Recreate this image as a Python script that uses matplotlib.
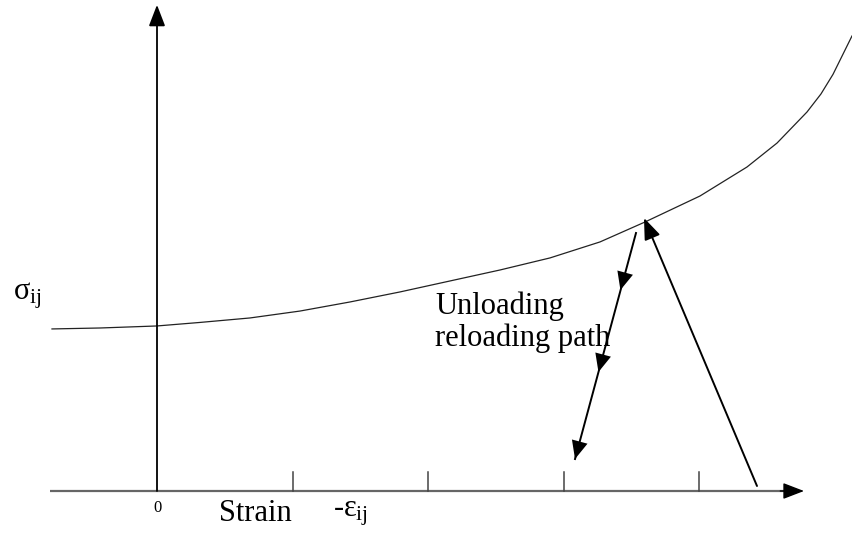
import matplotlib.pyplot as plt

plt.rcParams["font.family"] = ["Liberation Serif", "DejaVu Serif"]
plt.rcParams["mathtext.fontset"] = "custom"
plt.rcParams["mathtext.rm"] = "Liberation Serif"
plt.rcParams["mathtext.it"] = "Liberation Serif"

# stress-strain curve (strain units = tick spacing)
curve_x = [-0.775, -0.421, 0.0, 0.317, 0.686, 1.055, 1.424, 1.793, 2.162,
           2.531, 2.900, 3.269, 3.601, 4.007, 4.354, 4.576, 4.797, 4.900,
           4.989, 5.129]
curve_y = [1.196, 1.203, 1.218, 1.244, 1.277, 1.328, 1.395, 1.469, 1.550,
           1.631, 1.720, 1.838, 1.985, 2.177, 2.391, 2.568, 2.797, 2.930,
           3.075, 3.358]

# unloading path: start, two mid arrow tips, end
unload_x = [3.535, 3.420, 3.258, 3.085]
unload_y = [1.904, 1.483, 0.878, 0.236]

# reloading path: start on axis -> tip on curve
reload_x = [4.428, 3.594]
reload_y = [0.037, 2.015]

tick_x = [1, 2, 3, 4]

fig = plt.figure(figsize=(8.52, 5.33), dpi=100)
ax = fig.add_axes([0, 0, 1, 1])
ax.set_xlim(-157 / 135.5, (852 - 157) / 135.5)
ax.set_ylim((491 - 533) / 135.5, 491 / 135.5)
ax.axis("off")

head = "-|>,head_length=1.3,head_width=0.5"
head_mid = "-|>,head_length=1.3,head_width=0.58"

# horizontal axis (grey line, black head)
ax.plot([-0.79, 4.65], [0, 0], color="#666666", lw=1.6, solid_capstyle="butt")
ax.annotate("", xy=(4.775, 0), xytext=(4.6, 0),
            arrowprops=dict(arrowstyle=head, color="black", lw=1.0,
                            mutation_scale=10, shrinkA=0, shrinkB=0))
# vertical axis
ax.annotate("", xy=(0, 3.588), xytext=(0, 0),
            arrowprops=dict(arrowstyle=head, color="black", lw=1.3,
                            mutation_scale=10, shrinkA=0, shrinkB=0))

for t in tick_x:
    ax.plot([t, t], [0, 0.14], color="#444444", lw=1.1)

ax.plot(curve_x, curve_y, color="#222222", lw=0.9)

# unloading path with arrowheads along it
ax.plot([unload_x[0], unload_x[-1]], [unload_y[0], unload_y[-1]], color="black", lw=1.4)
for i in range(1, 4):
    ax.annotate("", xy=(unload_x[i], unload_y[i]),
                xytext=(unload_x[i - 1], unload_y[i - 1]),
                arrowprops=dict(arrowstyle=head_mid, color="black", lw=0.0,
                                mutation_scale=10, shrinkA=0, shrinkB=0))

ax.annotate("", xy=(reload_x[1], reload_y[1]), xytext=(reload_x[0], reload_y[0]),
            arrowprops=dict(arrowstyle=head, color="black", lw=1.4,
                            mutation_scale=10, shrinkA=0, shrinkB=0))

ax.text(0, -0.07, "0", fontsize=12, ha="center", va="top")
ax.text(0.457, -0.165, "Strain", fontsize=22, ha="left", va="center")
ax.text(1.30, -0.165, r"-$\varepsilon_{ij}$", fontsize=22, ha="left", va="center")
ax.text(-1.06, 1.44, r"$\sigma_{ij}$", fontsize=22, ha="left", va="center")
ax.text(2.052, 1.47, "Unloading\nreloading path", fontsize=22, ha="left",
        va="top", linespacing=1.1)

fig.savefig("out.png", dpi=100)
